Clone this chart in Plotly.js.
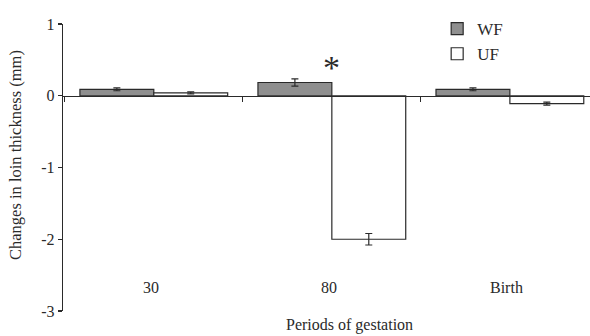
<!DOCTYPE html>
<html>
<head>
<meta charset="utf-8">
<script src="https://cdn.plot.ly/plotly-3.0.1.min.js"></script>
<style>html,body{margin:0;padding:0;background:#fff;}#chart{width:590px;height:336px;}</style>
</head>
<body>
<div id="chart"></div>
<script>
var categories = ["30", "80", "Birth"];
var wfValues = [0.09, 0.185, 0.09];
var wfErrors = [0.02, 0.05, 0.02];
var ufValues = [0.04, -2.0, -0.11];
var ufErrors = [0.015, 0.08, 0.02];
var yTickVals = [1, 0, -1, -2, -3];
var yTickText = ["1", "0", "-1", "-2", "-3"];
var seriesNames = ["WF", "UF"];
var significant = ["80"];

var serif = "Liberation Serif, Times New Roman, serif";
var dark = "#2a2a2a";

var traces = [
  {
    type: "bar", name: seriesNames[0], x: categories, y: wfValues,
    marker: {color: "#8f8f8f", line: {color: dark, width: 1.2}},
    error_y: {type: "data", array: wfErrors, visible: true, color: dark, thickness: 1.2, width: 3.5}
  },
  {
    type: "bar", name: seriesNames[1], x: categories, y: ufValues,
    marker: {color: "#ffffff", line: {color: dark, width: 1.2}},
    error_y: {type: "data", array: ufErrors, visible: true, color: dark, thickness: 1.2, width: 3.5}
  }
];

function px2paperX(px) { return (px - 63) / 527; }
function px2paperY(py) { return (311 - py) / 287; }

var annotations = categories.map(function (c, i) {
  return {x: i, y: -2.67, xref: "x", yref: "y", text: c, showarrow: false,
    xanchor: "center", yanchor: "middle", xshift: -3,
    font: {family: serif, size: 16, color: dark}};
});
significant.forEach(function (c) {
  annotations.push({x: categories.indexOf(c), y: 0.4, xref: "x", yref: "y", text: "*", showarrow: false,
    xanchor: "center", yanchor: "middle",
    font: {family: serif, size: 34, color: dark}});
});
annotations.push({x: px2paperX(349), y: px2paperY(325), xref: "paper", yref: "paper",
  text: "Periods of gestation", showarrow: false, xanchor: "center", yanchor: "middle",
  font: {family: serif, size: 16, color: dark}});
annotations.push({x: px2paperX(15), y: px2paperY(155), xref: "paper", yref: "paper",
  text: "Changes in loin thickness (mm)", showarrow: false, textangle: -90,
  xanchor: "center", yanchor: "middle",
  font: {family: serif, size: 16.5, color: dark}});

var layout = {
  width: 590, height: 336,
  margin: {l: 63, r: 0, t: 24, b: 25},
  paper_bgcolor: "#ffffff", plot_bgcolor: "#ffffff",
  barmode: "group", bargap: 0.17, bargroupgap: 0,
  showlegend: true,
  legend: {x: 0.71, y: 1.045, xanchor: "left", yanchor: "top", bgcolor: "rgba(0,0,0,0)",
    font: {family: serif, size: 17, color: dark}, tracegroupgap: 0},
  xaxis: {
    type: "category", range: [-0.51, 2.45],
    anchor: "free", position: 0.75,
    showline: true, linecolor: dark, linewidth: 1.2,
    ticks: "outside", tickson: "boundaries", ticklen: 5, tickcolor: dark, tickwidth: 1.2,
    showticklabels: false, showgrid: false, zeroline: false, fixedrange: true
  },
  yaxis: {
    range: [-3, 1], tickvals: yTickVals, ticktext: yTickText,
    showline: true, linecolor: dark, linewidth: 1.2,
    ticks: "outside", ticklen: 4, tickcolor: dark, tickwidth: 1.2,
    showgrid: false, zeroline: false,
    tickfont: {family: serif, size: 16, color: dark}
  },
  annotations: annotations
};

Plotly.newPlot("chart", traces, layout, {displayModeBar: false, staticPlot: true});
</script>
</body>
</html>
